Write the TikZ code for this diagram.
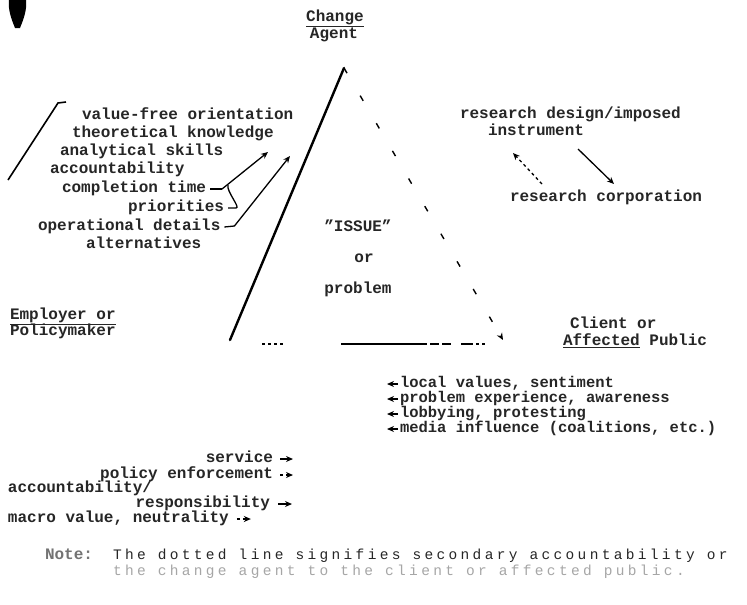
\documentclass[tikz,border=0pt]{standalone}
\usepackage{fontspec}
\setmainfont{Liberation Mono}
\usetikzlibrary{arrows.meta}
\begin{document}
\begin{tikzpicture}[x=1pt,y=-1pt,
  every node/.style={inner sep=0pt, outer sep=0pt},
  tw/.style={font=\fontsize{16}{18}\selectfont\bfseries, text=black!85, text height=8.5pt, text depth=2pt},
  lt/.style={tw, anchor=west},
  rt/.style={tw, anchor=east},
  ct/.style={tw, anchor=center},
  clt/.style={lt, font=\fontsize{15.5}{17}\selectfont\bfseries},
  notetxt/.style={lt, font=\fontsize{14.5}{16}\selectfont\addfontfeature{LetterSpace=23}},
  heavy/.style={line width=2.4pt, line cap=round},
  arr/.style={line width=1.3pt, -{Stealth[length=7pt,width=6pt]}},
  darr/.style={arr, dash pattern=on 3pt off 3pt},
  sparse/.style={line width=1.4pt, dash pattern=on 6pt off 26pt, -{Stealth[length=7pt,width=6pt]}},
  baseline/.style={line width=1.4pt, dash pattern=on 3pt off 3pt on 3pt off 3pt on 3pt off 3pt on 3pt off 58pt on 48pt off 2pt on 36pt off 3pt on 9pt off 3pt on 9pt off 10pt on 12pt off 3pt},
  thin/.style={line width=1.3pt}
]
\useasboundingbox (0,0) rectangle (747,605);
\fill[white] (0,0) rectangle (747,605);

% scan blob
\fill (9,0) -- (26,0) .. controls (27,10) and (24,18) .. (20,28) -- (15,28) .. controls (11,18) and (8,10) .. (9,0);

% corners
\node[ct] (change) at (335,18) {\underline{Change}};
\node[ct] (agent) at (334,35) {Agent};
\node[lt] (emp1) at (10,316) {\underline{Employer or}};
\node[lt] (emp2) at (10,332) {Policymaker};
\node[lt] (cli1) at (570,325) {Client or};
\node[lt] (cli2) at (563,342) {\underline{Affected} Public};

% issue
\node[ct] (issue) at (358,228) {\char"22 ISSUE\char"22};
\node[ct] (or) at (364,259) {or};
\node[ct] (prob) at (358,290) {problem};

% triangle
\coordinate (apex) at (344,68);
\coordinate (empc) at (230,340);
\coordinate (clic) at (503,340);
\coordinate (basel) at (262,344);
\coordinate (baser) at (488,344);
\draw[heavy] (apex) -- (empc);
\draw[sparse] (apex) -- (clic);
\draw[baseline] (basel) -- (baser);
\draw[line width=2.6pt] (350,344) -- (420,344);

% left list
\node[lt] (vfo) at (82,116) {value-free orientation};
\node[lt] (tk) at (72,134) {theoretical knowledge};
\node[lt] (as) at (60,152) {analytical skills};
\node[lt] (acc) at (50,170) {accountability};
\node[lt] (ctime) at (62,189) {completion time};
\node[lt] (prio) at (128,208) {priorities};
\node[lt] (opd) at (38,227) {operational details};
\node[lt] (alt) at (86,245) {alternatives};

\coordinate (brt) at (58,103);
\coordinate (brb) at (8,180);
\draw[line width=1.6pt] (brb) -- (brt) -- ++(8,-1);

\coordinate (h1) at (268,152);
\coordinate (h2) at (290,156);
\draw[thin] ([xshift=4pt]ctime.east) -- ++(12,0) coordinate (j1);
\draw[arr] (j1) -- (h1);
\draw[thin] ([xshift=4pt]prio.east) -- ++(8,0) .. controls +(5,0) and +(-2,6) .. ([xshift=6pt,yshift=4pt]j1);
\draw[arr] ([xshift=4pt]opd.east) -- ++(10,-1) -- (h2);

% research
\node[lt] (rdi) at (460,115) {research design/imposed};
\node[lt] (inst) at (488,132) {instrument};
\node[lt] (rcorp) at (510,198) {research corporation};
\coordinate (dt) at (542,184);
\coordinate (dh) at (513,153);
\coordinate (st) at (578,149);
\coordinate (sh) at (614,184);
\draw[darr] (dt) -- (dh);
\draw[arr] (st) -- (sh);

% client side
\node[clt] (lv) at (400,384) {local values, sentiment};
\node[clt] (pe) at (400,399) {problem experience, awareness};
\node[clt] (lp) at (400,414) {lobbying, protesting};
\node[clt] (mi) at (400,429) {media influence (coalitions, etc.)};
\foreach \n in {lv,pe,lp,mi}
  \draw[arr] ([xshift=-2pt]\n.west) -- ([xshift=-13pt]\n.west);

% employer side
\node[rt] (svc) at (273,459) {service};
\node[rt] (pol) at (273,475) {policy enforcement};
\node[lt] (acc2) at (8,489) {accountability/};
\node[rt] (resp) at (270,504) {responsibility};
\node[lt] (macro) at (8,519) {macro value, neutrality};
\draw[arr] ([xshift=7pt]svc.east) -- ([xshift=20pt]svc.east);
\draw[darr] ([xshift=7pt]pol.east) -- ([xshift=20pt]pol.east);
\draw[arr] ([xshift=8pt]resp.east) -- ([xshift=22pt]resp.east);
\draw[darr] ([xshift=8pt]macro.east) -- ([xshift=22pt]macro.east);

% note
\node[lt, text=black!55] (note) at (45,556) {Note:};
\node[notetxt, text=black!85] (n1) at (113,556) {The dotted line signifies secondary accountability or};
\node[notetxt, text=black!35] (n2) at (113,572) {the change agent to the client or affected public.};
\end{tikzpicture}
\end{document}
